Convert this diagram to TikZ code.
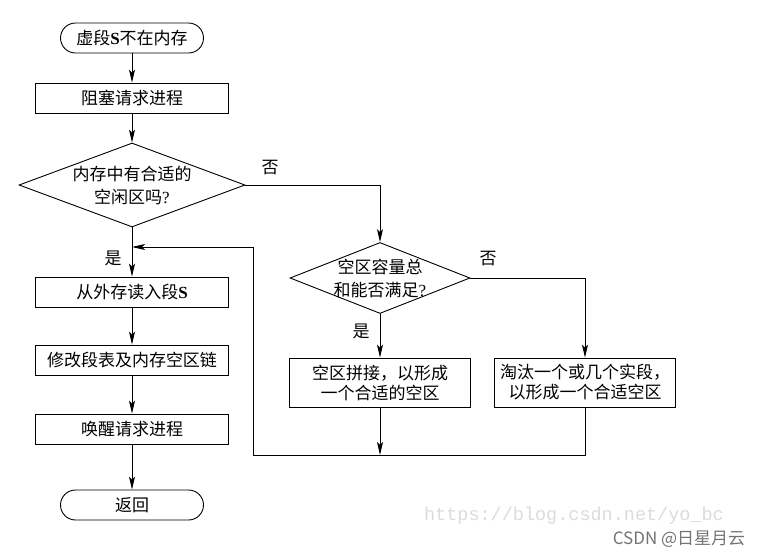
\documentclass[tikz,border=0pt]{standalone}
\usepackage{fontspec}
\setmainfont{Liberation Serif}
\setsansfont{Liberation Sans}
\setmonofont{Liberation Mono}
\newfontfamily\cjk{Noto Sans CJK SC}
\usepackage{tikz}
\usetikzlibrary{shapes, shapes.geometric, arrows.meta, calc}

\begin{document}
\begin{tikzpicture}[x = 1pt, y = 1pt, line width = 0.9pt,
        >= {Stealth[length = 13pt, width = 6pt, inset = 3pt]},
        every node/.style = {font = \fontsize{17}{23}\selectfont\cjk},
        proc/.style = {rectangle, draw = black, minimum width = 193pt, minimum height = 30pt, inner sep = 0pt},
        term/.style = {rectangle, rounded corners = 15pt, draw = black, minimum width = 143pt, minimum height = 30pt, inner sep = 0pt},
        wide/.style = {rectangle, draw = black, minimum width = 181pt, minimum height = 49pt, inner sep = 0pt, align = center, font = \fontsize{17}{20}\selectfont\cjk},
        test/.style = {diamond, draw = black, align = center}]
        \useasboundingbox (0, 0) rectangle (761, -555);

        % left column
        \node (start) [term] at (132, -38) {虚段{\rmfamily\bfseries S}不在内存};
        \node (block) [proc] at (132, -98) {阻塞请求进程};
        \node (d1) [test, inner sep = 0pt, aspect = 2.7, minimum width = 226pt, minimum height = 84pt] at (132, -185) {内存中有合适的\\空闲区吗{\rmfamily ?}};
        \node (read) [proc] at (132, -292) {从外存读入段{\rmfamily\bfseries S}};
        \node (modify) [proc] at (132, -360) {修改段表及内存空区链};
        \node (wake) [proc] at (132, -429) {唤醒请求进程};
        \node (ret) [term] at (132, -505) {返回};

        % right part
        \node (d2) [test, inner sep = -4pt, aspect = 2.9, minimum width = 180pt, minimum height = 71pt] at (380, -278) {空区容量总\\和能否满足{\rmfamily ?}};
        \node (compact) [wide] at (380, -382.5) {空区拼接，以形成\\一个合适的空区};
        \node (evict) [wide] at (585, -382.5) {淘汰一个或几个实段，\\以形成一个合适空区};

        \coordinate (join) at (380, -455);
        \coordinate (corner) at (253, -455);
        \coordinate (back) at (132, -247);

        \node (no1) at (270, -168) {否};
        \node (no2) at (488, -259) {否};
        \node (yes1) at (113, -258) {是};
        \node (yes2) at (361, -331) {是};

        \draw [->] (start) -- (block);
        \draw [->] (block) -- (d1);
        \draw [->] (d1) -- (read);
        \draw [->] (read) -- (modify);
        \draw [->] (modify) -- (wake);
        \draw [->] (wake) -- (ret);

        \draw [->] (d1.east) -| (d2.north);
        \draw [->] (d2.east) -| (evict.north);
        \draw [->] (d2) -- (compact);
        \draw [->] (compact) -- (join);
        \draw [->] (evict.south) |- (corner) |- (back);

        % watermark
        \node (url) [font = \fontsize{18.5}{20}\selectfont\ttfamily, text = black!14] at (574, -516) {https://blog.csdn.net/yo\_bc};
        \node (mark) [font = \fontsize{17}{20}\selectfont\cjk, text = black!55] at (679, -539) {CSDN @日星月云};
    \end{tikzpicture}
\end{document}
